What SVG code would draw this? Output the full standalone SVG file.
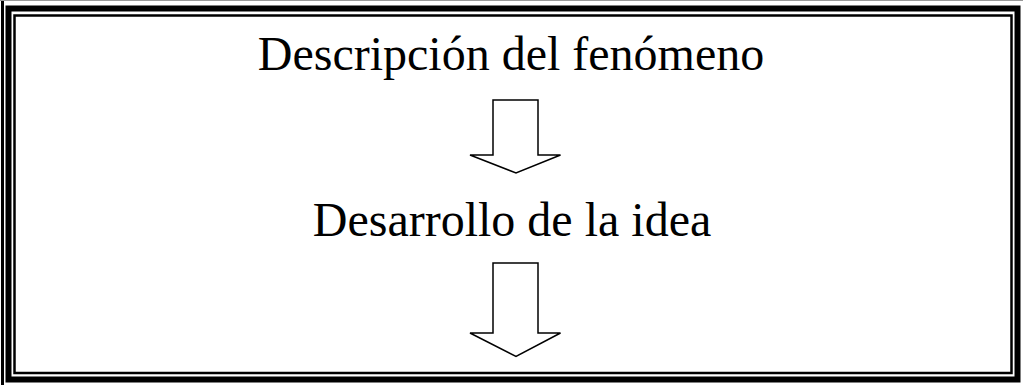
<svg xmlns="http://www.w3.org/2000/svg" width="1023" height="385" viewBox="0 0 1023 385">
<style>
.t{font-family:"Liberation Serif","Times New Roman",serif;font-size:48px;fill:#000;text-anchor:middle}
.arr{fill:#fff;stroke:#000;stroke-width:1.5;stroke-linejoin:miter}
</style>
<rect width="1023" height="385" fill="#fff"/>
<g id="border" fill="none">
<line x1="0" y1="0.5" x2="1023" y2="0.5" stroke="#999" stroke-width="1"/>
<line x1="2.5" y1="1" x2="2.5" y2="385" stroke="#000" stroke-width="3"/>
<rect x="8.5" y="8.5" width="1009" height="371" stroke="#000" stroke-width="6"/>
<rect x="14.5" y="15.5" width="997" height="357.5" stroke="#000" stroke-width="2.5"/>
</g>
<g id="node1"><text class="t" x="511" y="70">Descripción del fenómeno</text></g>
<g id="node2"><text class="t" x="512" y="236">Desarrollo de la idea</text></g>
<g id="connectors">
<polygon class="arr" points="493,100 538,100 538,155 560.5,155 516,173 470,155 493,155"/>
<polygon class="arr" points="493,263 538,263 538,333 560.5,333 516,356.5 470,333 493,333"/>
</g>
</svg>
